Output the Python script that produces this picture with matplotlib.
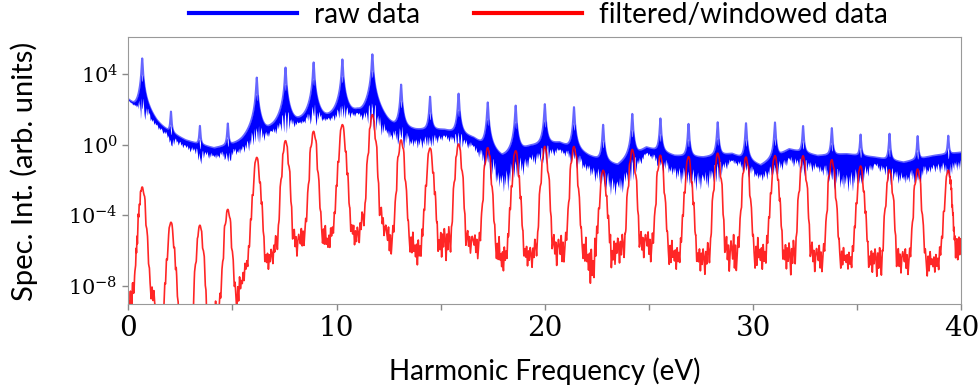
import numpy as np
import matplotlib
matplotlib.use("Agg")
import matplotlib.pyplot as plt
from matplotlib.lines import Line2D
from matplotlib.ticker import FixedLocator, FixedFormatter, NullLocator

# odd-harmonic peak positions (eV)
harm_x = [0.67, 2.05, 3.44, 4.78, 6.17, 7.55, 8.90, 10.28, 11.72, 13.10,
          14.49, 15.86, 17.26, 18.60, 20.00, 21.40, 22.80, 24.20, 25.55, 26.90,
          28.30, 29.66, 31.05, 32.40, 33.78, 35.16, 36.55, 37.90, 39.37]
# log10 of the peak tops
raw_peak = [4.90, 1.85, 1.03, 1.18, 3.81, 4.38, 4.67, 4.84, 5.13, 3.41,
            2.72, 2.90, 2.40, 2.22, 2.30, 2.13, 1.13, 1.75, 1.49, 1.18,
            1.27, 1.22, 1.26, 1.05, 0.93, 0.55, 0.61, 0.47, 0.47]
filt_peak = [-2.40, -4.40, -4.57, -3.67, -0.72, 0.23, 0.76, 1.14, 1.71, 0.27,
             -0.19, 0.04, -0.17, -0.34, -0.10, -0.10, -1.45, -0.27, -0.60, -0.68,
             -0.48, -0.70, -0.62, -0.63, -0.85, -1.21, -1.42, -1.38, -1.45]

# levels between the peaks (log10): start, gap middles, end
gap_x = [0.0, 1.36, 2.745, 4.11, 5.475, 6.86, 8.225, 9.59, 11.0, 12.41,
         13.795, 15.175, 16.56, 17.93, 19.3, 20.7, 22.1, 23.5, 24.875, 26.225,
         27.6, 28.98, 30.355, 31.725, 33.09, 34.47, 35.855, 37.225, 38.635, 40.0]
raw_top = [2.57, 1.00, 0.23, -0.20, 0.10, 0.90, 1.35, 1.55, 1.90, 1.00,
           0.85, 0.85, 0.40, -0.72, -0.06, 0.13, -0.63, -1.20, -0.15, -0.63,
           -0.72, -0.51, -1.20, -0.25, -0.63, -0.53, -0.72, -1.01, -0.63, -0.44]
raw_low = [2.50, 0.90, -0.34, -0.90, -0.60, 0.50, 1.10, 1.30, 1.60, 0.23,
           -0.34, 0.23, -0.34, -3.00, -1.30, -0.51, -1.80, -3.20, -0.63, -2.06,
           -2.80, -1.09, -2.20, -1.20, -1.66, -3.00, -1.39, -2.44, -1.66, -1.49]
filt_floor = [-11.0, -11.0, -9.4, -9.0, -7.4, -5.9, -4.9, -4.7, -4.6, -4.7,
              -5.1, -4.5, -5.1, -5.3, -5.7, -5.1, -5.3, -5.1, -4.9, -5.5,
              -5.7, -5.1, -5.3, -5.3, -5.7, -5.9, -5.7, -5.9, -6.05, -5.1]
filt_dip = [-12.0, -12.0, -11.0, -11.0, -9.4, -7.6, -7.0, -7.9, -7.0, -7.0,
            -7.9, -7.2, -6.4, -9.5, -7.6, -7.8, -9.5, -7.2, -6.8, -7.8,
            -8.1, -8.4, -7.9, -8.2, -7.8, -7.5, -7.9, -7.6, -7.8, -6.5]

# jagged shapes, half a gap each (0 = level, 1 = deepest dip)
tex_a = [0.2, 0.6, 0.1, 0.8, 0.3, 0.0, 0.7, 0.25, 1.0, 0.35, 0.05, 0.65, 0.2, 0.85, 0.3, 0.1]
tex_b = [0.1, 0.75, 0.3, -0.2, 0.9, 0.4, 0.15, 0.6, 0.05, 0.5, 0.95, 0.2, 0.7, 0.0, 0.45, 0.25]
tex_c = [0.3, 0.05, 0.55, 0.9, 0.2, 0.7, -0.15, 0.4, 0.0, 0.8, 0.35, 0.6, 0.15, 0.75, 0.2, 0.5]

x_ticks = [0, 5, 10, 15, 20, 25, 30, 35, 40]
x_labels = ["0", "", "10", "", "20", "", "30", "", "40"]
y_ticks = [1e-8, 1e-4, 1e0, 1e4]
y_labels = ["$10^{-8}$", "$10^{-4}$", "$10^{0}$", "$10^{4}$"]

plt.rcParams["font.family"] = ["Lato", "DejaVu Sans"]
plt.rcParams["mathtext.fontset"] = "dejavuserif"

x = np.linspace(0, 40, 8001)
hx = np.array(harm_x)
dx = x[:, None] - hx[None, :]
edges = [0.0] + harm_x + [40.0]


def texture(order):
    xs, vs = [], []
    for i in range(len(edges) - 1):
        t = order[i % len(order)] + order[(i + 1) % len(order)][::-1]
        xs.append(np.linspace(edges[i], edges[i + 1], len(t), endpoint=False))
        vs.append(t)
    return np.interp(x, np.concatenate(xs), np.concatenate(vs))


# raw data: sharp peaks on a band of fast fringes
A = 10.0 ** np.array(raw_peak)
bg = np.interp(x, gap_x, raw_top)
low = np.interp(x, gap_x, raw_low)
g1 = 0.02
shape = g1 ** 2 / (dx ** 2 + g1 ** 2) * np.exp(-np.abs(dx) / 0.5)
raw_line = np.log10(10 ** bg + (A * shape).sum(1))
band_top = raw_line - 1.3 * np.exp(-(dx / 0.03) ** 2).max(1)
near = np.exp(-(dx / 0.12) ** 2).max(1)
deep = low - 0.8 * near
btex = texture([tex_b, tex_c, tex_a])
band_low = band_top - (band_top - deep) * (0.4 + 0.6 * np.clip(btex, 0, 1))

# filtered/windowed data
B = 10.0 ** np.array(filt_peak)
floor = np.interp(x, gap_x, filt_floor)
dip = np.interp(x, gap_x, filt_dip)
rtex = texture([tex_a, tex_b, tex_c])
rfloor = floor - (floor - dip) * rtex
flank = 1 - np.exp(-(dx / 0.12) ** 2).max(1)
peaks = ((B * 10 ** (-40 * dx ** 2)).sum(1)
         + (B * 10 ** (-4.3 - 5 * dx ** 2)).sum(1)) * 10 ** (-1.2 * flank * np.clip(rtex, 0, 1))
filt = np.log10(10 ** rfloor + peaks)

fig = plt.figure(figsize=(9.79, 3.92), dpi=100)
ax = fig.add_axes([0.131, 0.224, 0.851, 0.681])

ax.fill_between(x, 10 ** band_low, 10 ** band_top, color="blue", lw=0)
ax.plot(x, 10 ** raw_line, color="blue", lw=1.5, alpha=0.6)
ax.plot(x, 10 ** filt, color="red", lw=1.2, alpha=0.85)

ax.set_yscale("log")
ax.set_xlim(0, 40)
ax.set_ylim(10 ** -9.05, 10 ** 6.1)
ax.xaxis.set_major_locator(FixedLocator(x_ticks))
ax.xaxis.set_major_formatter(FixedFormatter(x_labels))
ax.yaxis.set_major_locator(FixedLocator(y_ticks))
ax.yaxis.set_major_formatter(FixedFormatter(y_labels))
ax.yaxis.set_minor_locator(NullLocator())
for lab in ax.get_xticklabels():
    lab.set_fontfamily("DejaVu Serif")
    lab.set_fontsize(20)
ax.tick_params(axis="y", labelsize=15)
ax.tick_params(colors="#888888", labelcolor="black", length=4, width=1)
for sp in ax.spines.values():
    sp.set_color("#999999")

fig.text(545 / 979, 1 - 371 / 392, "Harmonic Frequency (eV)", ha="center", va="center", fontsize=20)
fig.text(24 / 979, 1 - 171 / 392, "Spec. Int. (arb. units)", ha="center", va="center",
         rotation=90, fontsize=21)

handles = [Line2D([], [], color="blue", lw=3), Line2D([], [], color="red", lw=3)]
fig.legend(handles, ["raw data", "filtered/windowed data"], loc="center",
           bbox_to_anchor=(538 / 979, 1 - 15 / 392), ncol=2, frameon=False,
           fontsize=20, handlelength=3.9, handletextpad=0.6, columnspacing=1.95)

fig.savefig("out.png", dpi=100)
